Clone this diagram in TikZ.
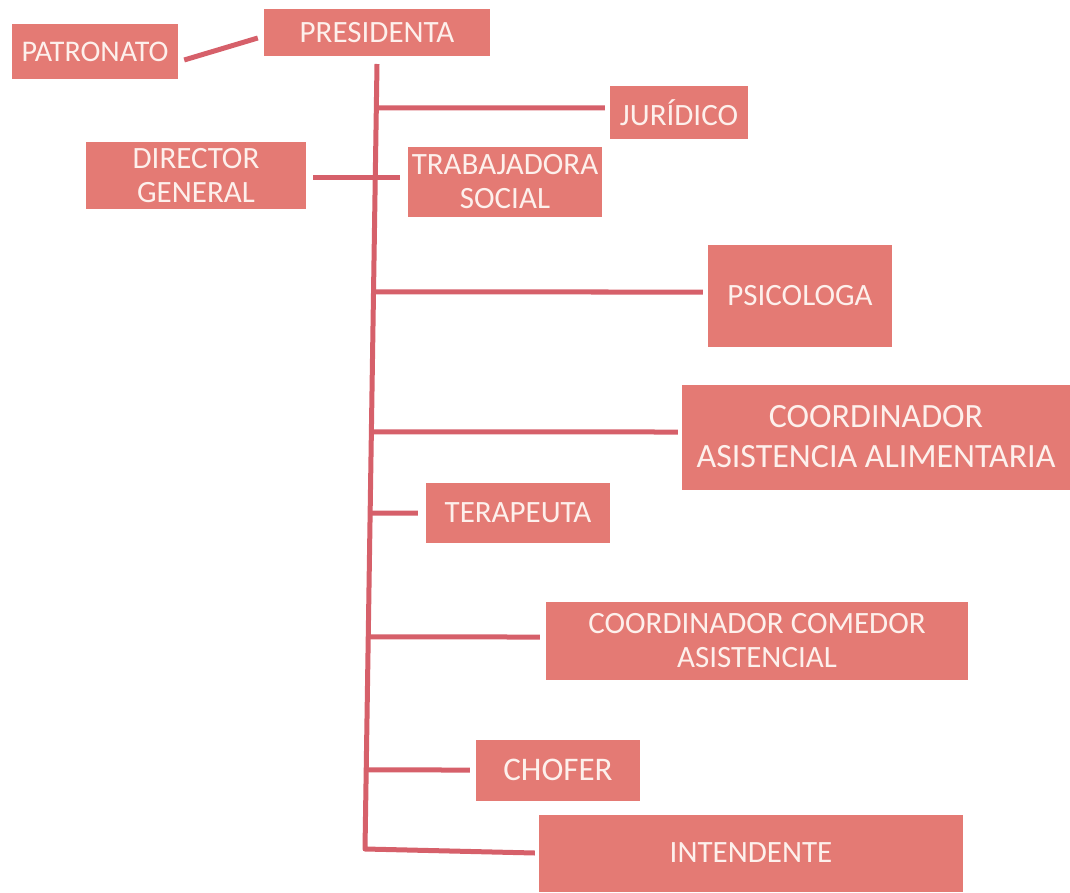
\documentclass[tikz,border=0pt]{standalone}
\usepackage{fontspec}
\setmainfont{Carlito}
\usetikzlibrary{calc}
\definecolor{boxfill}{RGB}{228,122,116}
\definecolor{linecol}{RGB}{214,96,106}
\definecolor{txtcol}{RGB}{253,240,236}
\tikzset{
  orgbox/.style={fill=boxfill, text=txtcol, inner sep=0pt, align=center,
    font=\fontsize{31}{34}\selectfont},
  conn/.style={draw=linecol, line width=5pt},
}
\begin{document}
\begin{tikzpicture}[x=1pt,y=-1pt]
\useasboundingbox (0,0) rectangle (1070,893);
% boxes
\node[orgbox, minimum width=166, minimum height=55, font=\fontsize{30}{34}\selectfont] (pat) at (95,52) {PATRONATO};
\node[orgbox, minimum width=226, minimum height=47] (pres) at (377,33) {PRESIDENTA};
\node[orgbox, minimum width=138, minimum height=53] (jur) at (679,113) {JURÍDICO};
\node[orgbox, minimum width=220, minimum height=67] (dir) at (196,176) {DIRECTOR\\GENERAL};
\node[orgbox, minimum width=194, minimum height=70] (trab) at (505,182) {TRABAJADORA\\SOCIAL};
\node[orgbox, minimum width=184, minimum height=102] (psi) at (800,296) {PSICOLOGA};
\node[orgbox, minimum width=388, minimum height=105, font=\fontsize{34}{40}\selectfont] (ali) at (876,437) {COORDINADOR\\ASISTENCIA ALIMENTARIA};
\node[orgbox, minimum width=184, minimum height=60] (ter) at (518,513) {TERAPEUTA};
\node[orgbox, minimum width=422, minimum height=78] (com) at (757,641) {COORDINADOR COMEDOR\\ASISTENCIAL};
\node[orgbox, minimum width=164, minimum height=61, font=\fontsize{33}{36}\selectfont] (cho) at (558,770) {CHOFER};
\node[orgbox, minimum width=424, minimum height=77] (int) at (751,853) {INTENDENTE};
% trunk
\coordinate (ttop) at (377,64);
\coordinate (tbot) at (365,849);
\draw[conn, line join=round] (ttop) -- (tbot) -- ([shift={(-4,0)}]int.west);
% patronato - presidenta
\draw[conn] ([shift={(6,8)}]pat.east) -- ([shift={(-6,5)}]pres.west);
% director - trabajadora
\draw[conn] ([shift={(7,2)}]dir.east) -- ([shift={(-8,-4)}]trab.west);
% branches
\draw[conn] (intersection of ttop--tbot and {[shift={(0,-5)}]jur.west}--{[shift={(0,-5)}]jur.east}) -- ([shift={(-5,-5)}]jur.west);
\draw[conn] (intersection of ttop--tbot and {[shift={(0,-4)}]psi.west}--{[shift={(0,-4)}]psi.east}) -- ([shift={(-5,-4)}]psi.west);
\draw[conn] (intersection of ttop--tbot and {[shift={(0,-5)}]ali.west}--{[shift={(0,-5)}]ali.east}) -- ([shift={(-4,-5)}]ali.west);
\draw[conn] (intersection of ttop--tbot and ter.west--ter.east) -- ([shift={(-8,0)}]ter.west);
\draw[conn] (intersection of ttop--tbot and {[shift={(0,-4)}]com.west}--{[shift={(0,-4)}]com.east}) -- ([shift={(-6,-4)}]com.west);
\draw[conn] (intersection of ttop--tbot and cho.west--cho.east) -- ([shift={(-6,0)}]cho.west);
\end{tikzpicture}
\end{document}
